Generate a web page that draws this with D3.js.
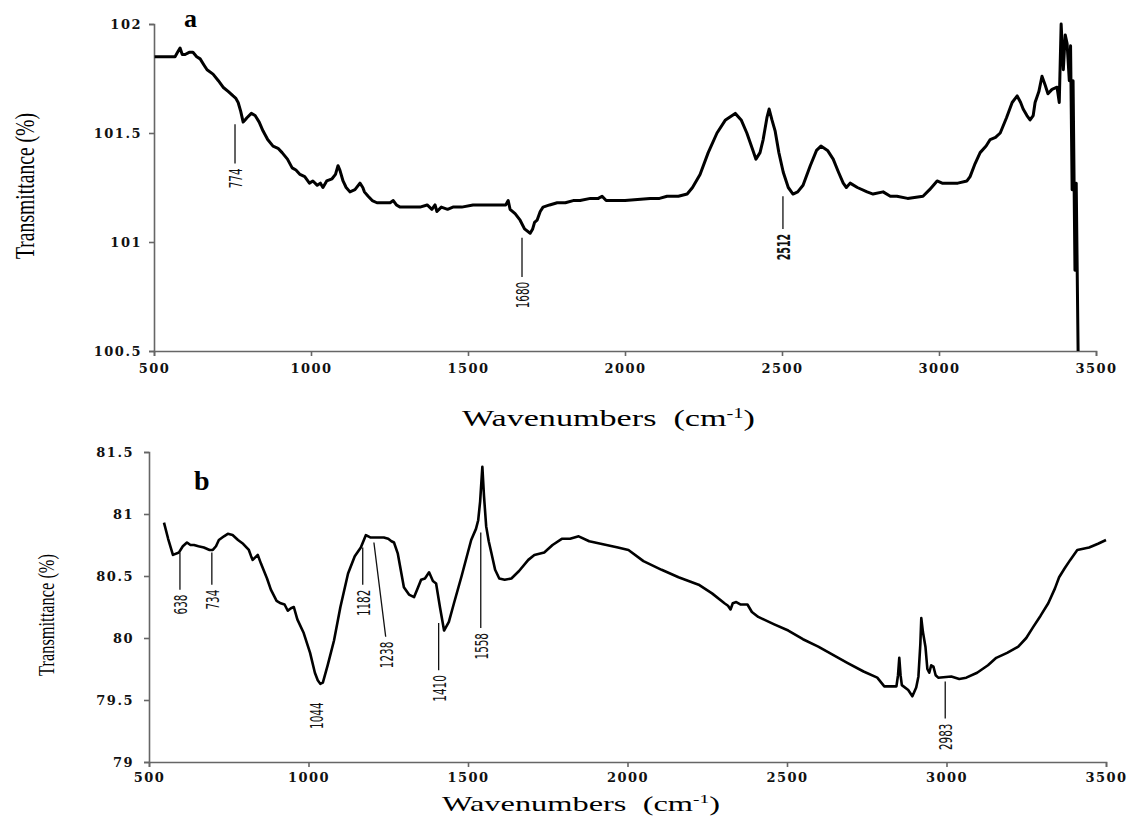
<!DOCTYPE html>
<html>
<head>
<meta charset="utf-8">
<script src="https://cdn.jsdelivr.net/npm/d3@7"></script>
<style>
body { margin: 0; background: #fff; }
.axis path, .axis line { stroke: #666; stroke-width: 1.6px; }
.axis text { font-family: "DejaVu Serif", serif; font-weight: bold; font-size: 13px; letter-spacing: 1.5px; fill: #111; }
.peak { font-family: "Liberation Sans Narrow", "DejaVu Sans Condensed", "Liberation Sans", sans-serif; font-size: 17px; fill: #111; }
</style>
</head>
<body>
<script>
// panel a spectrum [wavenumber, transmittance]
var specA = [[502,101.85],[567,101.85],[575,101.87],[583,101.89],[590,101.86],[599,101.86],[612,101.87],[624,101.87],[636,101.85],[647,101.84],[660,101.81],[669,101.79],[688,101.77],[705,101.74],[720,101.71],[737,101.69],[752,101.67],[760,101.66],[768,101.64],[776,101.60],[784,101.55],[790,101.56],[796,101.57],[810,101.59],[822,101.58],[835,101.55],[847,101.51],[862,101.47],[879,101.44],[895,101.43],[908,101.41],[925,101.38],[940,101.34],[952,101.33],[965,101.31],[980,101.30],[995,101.27],[1006,101.28],[1020,101.26],[1030,101.27],[1038,101.25],[1050,101.28],[1067,101.29],[1078,101.31],[1086,101.35],[1092,101.33],[1102,101.28],[1112,101.25],[1124,101.23],[1140,101.24],[1156,101.27],[1165,101.25],[1170,101.23],[1182,101.21],[1195,101.19],[1210,101.18],[1230,101.18],[1252,101.18],[1262,101.19],[1272,101.17],[1284,101.16],[1310,101.16],[1347,101.16],[1370,101.17],[1385,101.15],[1395,101.17],[1401,101.14],[1415,101.16],[1435,101.15],[1452,101.16],[1480,101.16],[1516,101.17],[1560,101.17],[1592,101.17],[1620,101.17],[1628,101.19],[1634,101.15],[1650,101.13],[1666,101.10],[1680,101.06],[1698,101.04],[1706,101.06],[1712,101.09],[1720,101.10],[1730,101.14],[1739,101.16],[1760,101.17],[1784,101.18],[1810,101.18],[1835,101.19],[1857,101.19],[1890,101.20],[1915,101.20],[1927,101.21],[1940,101.19],[1952,101.19],[2000,101.19],[2080,101.20],[2110,101.20],[2134,101.21],[2170,101.21],[2198,101.22],[2215,101.25],[2239,101.31],[2265,101.41],[2293,101.50],[2320,101.56],[2351,101.59],[2370,101.56],[2388,101.50],[2405,101.43],[2417,101.38],[2430,101.41],[2440,101.47],[2452,101.57],[2459,101.61],[2468,101.56],[2478,101.51],[2490,101.41],[2504,101.32],[2520,101.25],[2535,101.22],[2550,101.23],[2567,101.26],[2590,101.35],[2610,101.42],[2624,101.44],[2645,101.42],[2663,101.38],[2680,101.32],[2695,101.27],[2705,101.25],[2717,101.27],[2740,101.25],[2771,101.23],[2790,101.22],[2822,101.23],[2845,101.21],[2866,101.21],[2900,101.20],[2949,101.21],[2970,101.24],[2994,101.28],[3010,101.27],[3026,101.27],[3060,101.27],[3089,101.28],[3099,101.30],[3115,101.36],[3131,101.41],[3150,101.44],[3163,101.47],[3180,101.48],[3195,101.50],[3215,101.57],[3233,101.64],[3249,101.67],[3260,101.64],[3268,101.61],[3280,101.58],[3290,101.56],[3300,101.58],[3306,101.64],[3318,101.69],[3328,101.76],[3338,101.72],[3347,101.68],[3360,101.70],[3376,101.71],[3383,101.64],[3389,102.00],[3396,101.79],[3402,101.95],[3408,101.91],[3415,101.74],[3419,101.90],[3424,101.24],[3427,101.74],[3433,100.87],[3437,101.27],[3443,100.50]];

// panel b spectrum
var specB = [[547,80.93],[560,80.80],[575,80.67],[594,80.69],[606,80.74],[619,80.77],[630,80.75],[641,80.75],[655,80.74],[672,80.73],[690,80.71],[700,80.71],[710,80.74],[719,80.79],[735,80.82],[747,80.84],[762,80.83],[779,80.79],[795,80.76],[813,80.71],[820,80.66],[825,80.63],[833,80.65],[841,80.67],[851,80.60],[870,80.48],[882,80.39],[900,80.30],[913,80.28],[925,80.27],[935,80.22],[945,80.24],[954,80.25],[965,80.15],[985,80.04],[1005,79.88],[1020,79.72],[1029,79.66],[1037,79.63],[1045,79.64],[1060,79.78],[1080,79.98],[1100,80.25],[1124,80.52],[1145,80.66],[1164,80.73],[1180,80.83],[1195,80.81],[1215,80.81],[1236,80.81],[1250,80.80],[1260,80.78],[1268,80.77],[1280,80.68],[1299,80.41],[1315,80.35],[1331,80.33],[1342,80.40],[1353,80.47],[1365,80.48],[1378,80.53],[1390,80.46],[1400,80.44],[1412,80.25],[1425,80.06],[1440,80.13],[1456,80.28],[1480,80.50],[1510,80.79],[1525,80.88],[1532,80.95],[1538,81.10],[1545,81.38],[1550,81.15],[1557,80.90],[1565,80.78],[1573,80.69],[1585,80.55],[1598,80.48],[1615,80.47],[1636,80.48],[1660,80.54],[1689,80.63],[1708,80.67],[1739,80.69],[1765,80.75],[1794,80.80],[1820,80.80],[1847,80.82],[1880,80.78],[1934,80.75],[1970,80.73],[2003,80.71],[2050,80.62],[2107,80.55],[2160,80.49],[2223,80.43],[2265,80.36],[2304,80.28],[2315,80.26],[2323,80.23],[2330,80.28],[2341,80.29],[2355,80.27],[2376,80.27],[2390,80.21],[2410,80.17],[2460,80.11],[2504,80.06],[2550,79.99],[2598,79.93],[2640,79.87],[2689,79.80],[2740,79.73],[2783,79.68],[2805,79.61],[2843,79.61],[2848,79.70],[2852,79.84],[2856,79.70],[2860,79.62],[2880,79.58],[2893,79.53],[2905,79.60],[2912,79.69],[2918,79.95],[2921,80.16],[2926,80.05],[2934,79.93],[2940,79.75],[2946,79.72],[2952,79.78],[2959,79.77],[2966,79.70],[2974,79.68],[3015,79.69],[3040,79.67],[3062,79.68],[3096,79.72],[3130,79.78],[3156,79.84],[3190,79.88],[3225,79.93],[3250,80.00],[3272,80.09],[3295,80.18],[3319,80.28],[3340,80.40],[3353,80.49],[3370,80.56],[3388,80.63],[3410,80.71],[3447,80.73],[3475,80.76],[3500,80.79]];

var xTicks = [500, 1000, 1500, 2000, 2500, 3000, 3500];
var yTicksA = [100.5, 101, 101.5, 102];
var yTicksB = [79, 79.5, 80, 80.5, 81, 81.5];

// peak marks: label, leader line from (x1,y1) to (x2,y2) in data units
var peaksA = [
  {label: "774",  x1: 758,  y1: 101.54, x2: 758,  y2: 101.36},
  {label: "1680", x1: 1672, y1: 101.02, x2: 1672, y2: 100.84},
  {label: "2512", x1: 2503, y1: 101.21, x2: 2503, y2: 101.06, bold: true}
];
var peaksB = [
  {label: "638",  x1: 597,  y1: 80.69, x2: 597,  y2: 80.39},
  {label: "734",  x1: 697,  y1: 80.69, x2: 697,  y2: 80.43},
  {label: "1044", x1: 1023, y1: 79.52, x2: 1023, y2: 79.52},
  {label: "1182", x1: 1170, y1: 80.73, x2: 1170, y2: 80.43},
  {label: "1238", x1: 1205, y1: 80.77, x2: 1242, y2: 80.01},
  {label: "1410", x1: 1408, y1: 80.12, x2: 1408, y2: 79.74},
  {label: "1558", x1: 1540, y1: 80.85, x2: 1540, y2: 80.08},
  {label: "2983", x1: 2996, y1: 79.65, x2: 2996, y2: 79.35}
];

var width = 1131,
    height = 817;

var svg = d3.select("body").append("svg")
    .attr("width", width)
    .attr("height", height)
    .style("background", "#fff");

function drawPanel(p) {
  var x = d3.scaleLinear().domain([500, 3500]).range([p.left, p.right]);
  var y = d3.scaleLinear().domain(p.yDomain).range([p.bottom, p.top]);

  var xAxis = d3.axisBottom(x).tickValues(xTicks).tickSize(5).tickPadding(p.xPad)
      .tickFormat(d3.format("d"));
  var yAxis = d3.axisLeft(y).tickValues(p.yTicks).tickSize(5).tickPadding(p.yPad)
      .tickFormat(function (d) { return d; });

  svg.append("g").attr("class", "axis")
      .attr("transform", "translate(0," + p.bottom + ")")
      .call(xAxis);
  svg.append("g").attr("class", "axis")
      .attr("transform", "translate(" + p.left + ",0)")
      .call(yAxis);

  var line = d3.line()
      .x(function (d) { return x(d[0]); })
      .y(function (d) { return y(d[1]); });

  svg.append("path")
      .datum(p.data)
      .attr("d", line)
      .attr("fill", "none")
      .attr("stroke", "#000")
      .attr("stroke-width", p.lineWidth)
      .attr("stroke-linejoin", "round");

  /* peak leader lines and rotated labels */
  var g = svg.append("g").selectAll("g").data(p.peaks).enter().append("g");
  g.filter(function (d) { return d.y1 !== d.y2; })
    .append("line")
      .attr("x1", function (d) { return x(d.x1); })
      .attr("y1", function (d) { return y(d.y1); })
      .attr("x2", function (d) { return x(d.x2); })
      .attr("y2", function (d) { return y(d.y2); })
      .attr("stroke", "#111")
      .attr("stroke-width", 1.3);
  g.append("text")
      .attr("class", "peak")
      .attr("transform", function (d) {
        return "translate(" + (x(d.x2) + 1) + "," + (y(d.y2) + 5) + ") rotate(-90)";
      })
      .attr("text-anchor", "end")
      .attr("dy", "0.36em")
      .attr("textLength", function (d) { return d.label.length * 6.6; })
      .attr("lengthAdjust", "spacingAndGlyphs")
      .style("font-weight", function (d) { return d.bold ? "bold" : "normal"; })
      .text(function (d) { return d.label; });

  // panel letter
  svg.append("text")
      .attr("x", p.letterX)
      .attr("y", p.letterY)
      .style("font-family", "'Liberation Serif', serif")
      .style("font-weight", "bold")
      .style("font-size", p.letterSize + "px")
      .text(p.letter);

  // y title
  svg.append("text")
      .attr("transform", "translate(" + p.yTitleX + "," + p.yTitleY + ") rotate(-90)")
      .attr("text-anchor", "middle")
      .attr("textLength", p.yTitleLen)
      .attr("lengthAdjust", "spacingAndGlyphs")
      .style("font-family", "'Liberation Serif', serif")
      .style("font-size", p.yTitleSize + "px")
      .text("Transmittance (%)");

  // x title
  var xt = svg.append("text")
      .attr("x", p.xTitleX)
      .attr("y", p.xTitleY)
      .attr("textLength", p.xTitleLen)
      .attr("lengthAdjust", "spacingAndGlyphs")
      .style("font-family", "'Liberation Serif', serif")
      .style("font-size", p.xTitleSize + "px")
      .style("white-space", "pre");
  xt.append("tspan").text("Wavenumbers  (cm");
  xt.append("tspan").attr("dy", -8).style("font-size", (p.xTitleSize * 0.6) + "px").text("-1");
  xt.append("tspan").attr("dy", 8).text(")");
}

drawPanel({
  data: specA, yDomain: [100.5, 102], yTicks: yTicksA, peaks: peaksA,
  left: 154, right: 1096, top: 24, bottom: 351,
  xPad: 8, yPad: 7, lineWidth: 3,
  letter: "a", letterX: 184, letterY: 27, letterSize: 26,
  yTitleX: 34, yTitleY: 186, yTitleLen: 146, yTitleSize: 28,
  xTitleX: 462, xTitleY: 426, xTitleLen: 293, xTitleSize: 23
});

drawPanel({
  data: specB, yDomain: [79, 81.5], yTicks: yTicksB, peaks: peaksB,
  left: 149, right: 1106, top: 452, bottom: 762,
  xPad: 6, yPad: 10, lineWidth: 2.6,
  letter: "b", letterX: 194, letterY: 490, letterSize: 28,
  yTitleX: 54, yTitleY: 615, yTitleLen: 122, yTitleSize: 23,
  xTitleX: 442, xTitleY: 811, xTitleLen: 278, xTitleSize: 21
});
</script>
</body>
</html>
